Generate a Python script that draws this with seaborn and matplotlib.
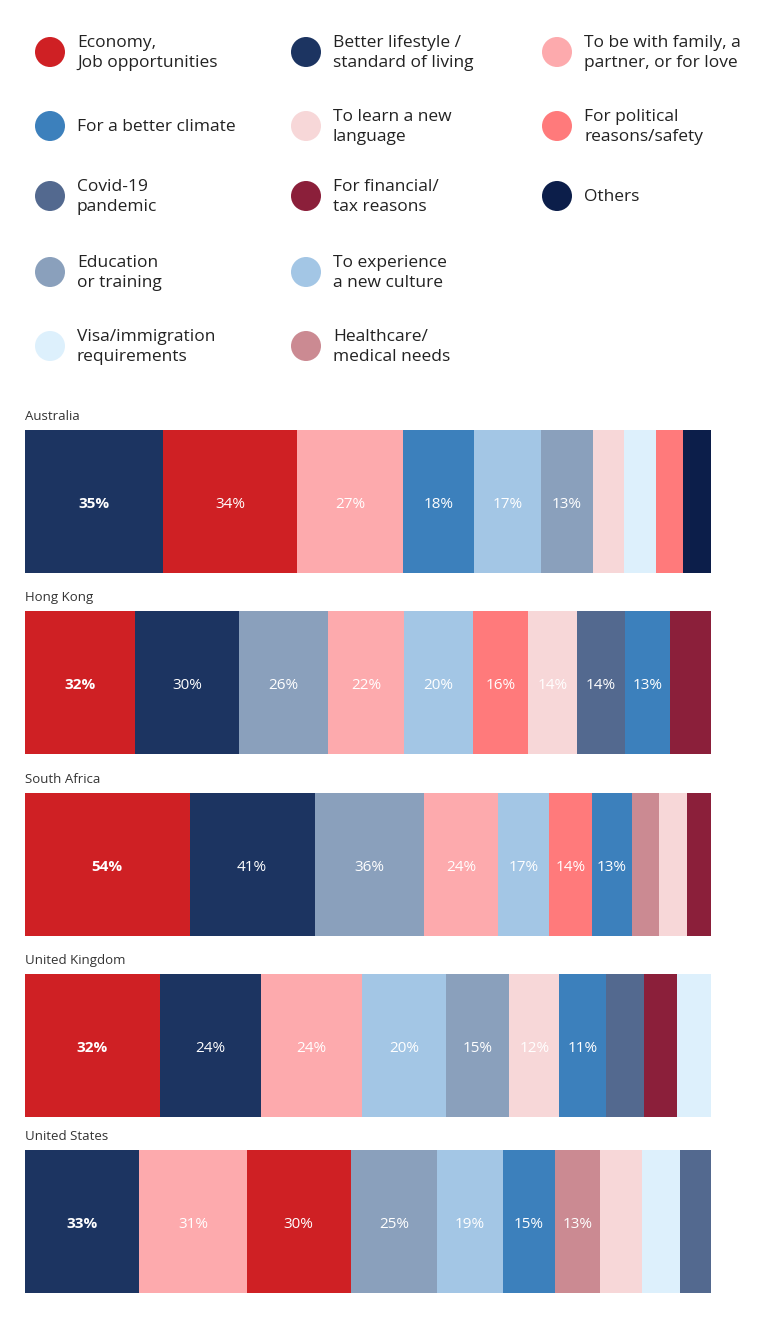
import matplotlib
matplotlib.use("Agg")
import matplotlib.pyplot as plt
from matplotlib.patches import Circle
import numpy as np
import pandas as pd
import seaborn as sns

sns.set_theme(style="white")
plt.rcParams["font.family"] = ["Open Sans", "DejaVu Sans"]

# legend entries (key, label, colour), laid out column by column
COL1 = ["economy", "climate", "covid", "education", "visa"]
COL2 = ["lifestyle", "language", "financial", "culture", "health"]
COL3 = ["family", "political", "others"]
LABELS = {
    "economy": "Economy,\nJob opportunities",
    "climate": "For a better climate",
    "covid": "Covid-19\npandemic",
    "education": "Education\nor training",
    "visa": "Visa/immigration\nrequirements",
    "lifestyle": "Better lifestyle /\nstandard of living",
    "language": "To learn a new\nlanguage",
    "financial": "For financial/\ntax reasons",
    "culture": "To experience\na new culture",
    "health": "Healthcare/\nmedical needs",
    "family": "To be with family, a\npartner, or for love",
    "political": "For political\nreasons/safety",
    "others": "Others",
}
PALETTE = {
    "economy": "#CF2024",
    "climate": "#3C80BC",
    "covid": "#53698F",
    "education": "#8AA0BC",
    "visa": "#DDF0FC",
    "lifestyle": "#1C3461",
    "language": "#F7D7D8",
    "financial": "#8B1F3A",
    "culture": "#A3C6E5",
    "health": "#CB8A92",
    "family": "#FDAAAD",
    "political": "#FF7A7B",
    "others": "#0C1E4A",
}

COUNTRIES = ["Australia", "Hong Kong", "South Africa", "United Kingdom", "United States"]

AU_REASONS = ["lifestyle", "economy", "family", "climate", "culture", "education",
              "language", "visa", "political", "others"]
AU_VALUES = [35, 34, 27, 18, 17, 13, 8, 8, 7, 7]

HK_REASONS = ["economy", "lifestyle", "education", "family", "culture", "political",
              "language", "covid", "climate", "financial"]
HK_VALUES = [32, 30, 26, 22, 20, 16, 14, 14, 13, 12]

SA_REASONS = ["economy", "lifestyle", "education", "family", "culture", "political",
              "climate", "health", "language", "financial"]
SA_VALUES = [54, 41, 36, 24, 17, 14, 13, 9, 9, 8]

UK_REASONS = ["economy", "lifestyle", "family", "culture", "education", "language",
              "climate", "covid", "financial", "visa"]
UK_VALUES = [32, 24, 24, 20, 15, 12, 11, 9, 8, 8]

US_REASONS = ["lifestyle", "family", "economy", "education", "culture", "climate",
              "health", "language", "visa", "covid"]
US_VALUES = [33, 31, 30, 25, 19, 15, 13, 12, 11, 9]

ALL_REASONS = [AU_REASONS, HK_REASONS, SA_REASONS, UK_REASONS, US_REASONS]
ALL_VALUES = [AU_VALUES, HK_VALUES, SA_VALUES, UK_VALUES, US_VALUES]
N_LABELED = [6, 9, 7, 7, 7]

W, H = 768, 1329
fig = plt.figure(figsize=(W / 100, H / 100), dpi=100)

# ---- legend, drawn in pixel coordinates ----
leg = fig.add_axes([0, 0, 1, 1])
leg.set_xlim(0, W)
leg.set_ylim(H, 0)
leg.axis("off")

col_x = [50, 306, 557]
row_y = [52, 126, 196, 272, 346]
for cx, keys in zip(col_x, [COL1, COL2, COL3]):
    for cy, key in zip(row_y, keys):
        leg.add_patch(Circle((cx, cy), 15, color=PALETTE[key], lw=0))
        leg.text(cx + 27, cy + 1, LABELS[key], fontsize=12.5, color="#222222",
                 va="center", ha="left", linespacing=1.3)

# ---- one stacked bar per country ----
bar_tops = [430, 611, 793, 974, 1150]
bar_h = 143
left, right = 25, 711

for i, country in enumerate(COUNTRIES):
    reasons = ALL_REASONS[i]
    values = np.array(ALL_VALUES[i])
    cum = np.cumsum(values)
    df = pd.DataFrame({"country": country, "reason": reasons, "cum": cum})

    top = bar_tops[i]
    ax = fig.add_axes([left / W, 1 - (top + bar_h) / H, (right - left) / W, bar_h / H])
    # draw cumulative totals from longest to shortest so each segment shows
    sns.barplot(data=df, x="cum", y="country", hue="reason",
                hue_order=reasons[::-1], palette=PALETTE, dodge=False,
                width=1, saturation=1, errorbar=None, legend=False, ax=ax,
                linewidth=0)
    ax.set_xlim(0, cum[-1])
    ax.set_ylim(0.5, -0.5)
    ax.axis("off")

    for j in range(N_LABELED[i]):
        ax.text(cum[j] - values[j] / 2, 0.02, f"{values[j]}%", color="white",
                ha="center", va="center", fontsize=11,
                fontweight="bold" if j == 0 else "normal")

    leg.text(left, top - 7, country, fontsize=9.5, color="#333333",
             ha="left", va="bottom")

fig.savefig("out.png", dpi=100)
